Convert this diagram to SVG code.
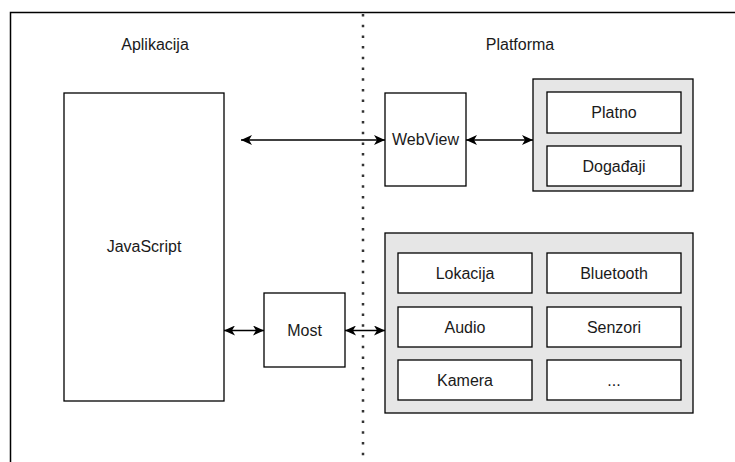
<svg xmlns="http://www.w3.org/2000/svg" width="735" height="462" viewBox="0 0 735 462">
<defs>
<style>
.box{fill:#ffffff;stroke:#000000;stroke-width:1.3}
.grp{fill:#e6e6e6;stroke:#000000;stroke-width:1.3}
.lbl{font-family:"Liberation Sans",Arial,Helvetica,sans-serif;font-size:16px;fill:#1a1a1a;text-anchor:middle;dominant-baseline:central}
.conn{stroke:#000000;stroke-width:1.3;fill:none}
</style>
<marker id="arr" viewBox="0 0 11 10" refX="11" refY="5" markerWidth="11" markerHeight="10" markerUnits="userSpaceOnUse" orient="auto-start-reverse">
<path d="M0,0 L11,5 L0,10 L3,5 z" fill="#000000"/>
</marker>
</defs>
<rect width="735" height="462" fill="#ffffff"/>
<g id="frame">
<path d="M10.5,462 L10.5,12.5 L735,12.5" fill="none" stroke="#000000" stroke-width="1.5"/>
<line x1="363" y1="14" x2="363" y2="462" stroke="#333333" stroke-width="2.5" stroke-dasharray="2.5 8.2"/>
</g>
<g id="title-aplikacija"><text class="lbl" x="155" y="44">Aplikacija</text></g>
<g id="title-platforma"><text class="lbl" x="520" y="44">Platforma</text></g>
<g id="javascript">
<rect class="box" x="64" y="93" width="160" height="308"/>
<text class="lbl" x="144" y="246">JavaScript</text>
</g>
<g id="webview">
<rect class="box" x="385" y="93" width="81" height="93"/>
<text class="lbl" x="425.5" y="139.5">WebView</text>
</g>
<g id="most">
<rect class="box" x="264" y="293" width="81" height="74"/>
<text class="lbl" x="304.5" y="330">Most</text>
</g>
<g id="webview-group">
<rect class="grp" x="533" y="79" width="160" height="112"/>
<g id="platno">
<rect class="box" x="547" y="92" width="134" height="41"/>
<text class="lbl" x="614" y="112.5">Platno</text>
</g>
<g id="dogadaji">
<rect class="box" x="547" y="146" width="134" height="40"/>
<text class="lbl" x="614" y="166">Događaji</text>
</g>
</g>
<g id="native-group">
<rect class="grp" x="385" y="233" width="308" height="180"/>
<g id="lokacija">
<rect class="box" x="398" y="253" width="134" height="40"/>
<text class="lbl" x="465" y="273">Lokacija</text>
</g>
<g id="bluetooth">
<rect class="box" x="547" y="253" width="134" height="40"/>
<text class="lbl" x="614" y="273">Bluetooth</text>
</g>
<g id="audio">
<rect class="box" x="398" y="307" width="134" height="40"/>
<text class="lbl" x="465" y="327">Audio</text>
</g>
<g id="senzori">
<rect class="box" x="547" y="307" width="134" height="40"/>
<text class="lbl" x="614" y="327">Senzori</text>
</g>
<g id="kamera">
<rect class="box" x="398" y="360" width="134" height="40"/>
<text class="lbl" x="465" y="380">Kamera</text>
</g>
<g id="more">
<rect class="box" x="547" y="360" width="134" height="40"/>
<text class="lbl" x="614" y="380">...</text>
</g>
</g>
<g id="connectors">
<line class="conn" x1="241" y1="140" x2="385" y2="140" marker-start="url(#arr)" marker-end="url(#arr)"/>
<line class="conn" x1="466" y1="140" x2="533" y2="140" marker-start="url(#arr)" marker-end="url(#arr)"/>
<line class="conn" x1="224" y1="330.5" x2="264" y2="330.5" marker-start="url(#arr)" marker-end="url(#arr)"/>
<line class="conn" x1="345" y1="330.5" x2="385" y2="330.5" marker-start="url(#arr)" marker-end="url(#arr)"/>
</g>
</svg>
